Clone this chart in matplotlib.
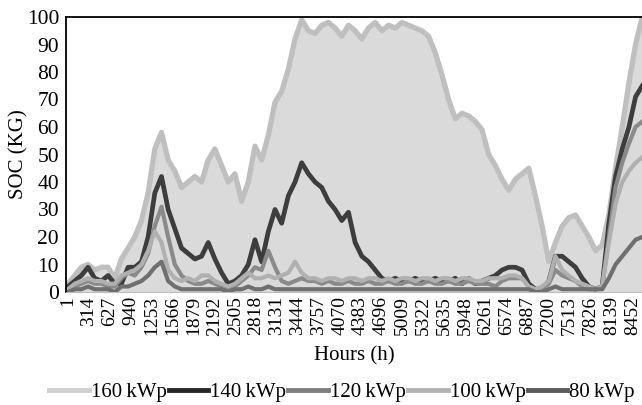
import matplotlib
matplotlib.use('Agg')
import matplotlib.pyplot as plt
from matplotlib.lines import Line2D

plt.rcParams['font.family'] = ['Liberation Serif', 'DejaVu Serif']

# hourly SOC, one sample every 100 h
hours = list(range(1, 8602, 100))

soc_160 = [3, 6, 9, 10, 8, 9, 9, 5, 12, 16,
           20, 26, 36, 52, 58, 48, 44, 38, 40, 42,
           40, 48, 52, 46, 40, 43, 33, 40, 53, 48,
           57, 69, 73, 81, 92, 99, 95, 94, 97, 98,
           96, 93, 97, 95, 92, 96, 98, 95, 97, 96,
           98, 97, 96, 95, 93, 87, 79, 70, 63, 65,
           64, 62, 59, 50, 46, 41, 37, 41, 43, 45,
           35, 24, 11, 18, 24, 27, 28, 24, 20, 15,
           17, 28, 45, 60, 76, 90, 100]
soc_140 = [2, 4, 6, 9, 5, 4, 6, 3, 3, 9,
           9, 11, 20, 36, 42, 30, 23, 16, 14, 12,
           13, 18, 12, 7, 3, 4, 6, 10, 19, 11,
           22, 30, 25, 35, 40, 47, 43, 40, 38, 33,
           30, 26, 29, 18, 13, 11, 8, 5, 4, 5,
           4, 4, 5, 4, 4, 5, 4, 4, 5, 3,
           5, 3, 4, 5, 6, 8, 9, 9, 8, 3,
           1, 1, 4, 13, 13, 11, 9, 5, 2, 1,
           2, 25, 42, 52, 60, 71, 75]
soc_120 = [1, 2, 3, 4, 3, 3, 2, 2, 5, 7,
           6, 9, 14, 24, 31, 20, 10, 6, 4, 3,
           3, 4, 3, 2, 1, 2, 4, 6, 9, 8,
           15, 9, 4, 3, 4, 5, 4, 4, 3, 4,
           3, 3, 4, 3, 3, 4, 3, 3, 4, 3,
           3, 4, 3, 3, 4, 3, 3, 4, 3, 3,
           4, 3, 3, 3, 2, 4, 5, 5, 5, 2,
           1, 1, 3, 8, 6, 5, 4, 2, 1, 1,
           2, 20, 38, 47, 54, 60, 62]
soc_100 = [1, 3, 4, 5, 4, 4, 3, 3, 6, 7,
           8, 10, 15, 22, 18, 8, 5, 4, 5, 4,
           6, 6, 4, 3, 2, 3, 5, 7, 5, 5,
           6, 5, 6, 7, 11, 7, 5, 5, 4, 5,
           5, 4, 5, 5, 4, 5, 5, 4, 5, 4,
           5, 5, 4, 5, 5, 4, 5, 5, 4, 5,
           5, 4, 4, 5, 5, 5, 6, 6, 5, 2,
           1, 2, 4, 13, 8, 6, 4, 3, 2, 1,
           2, 18, 32, 40, 44, 47, 49]
soc_80 = [0, 1, 1, 2, 1, 1, 1, 0, 2, 2,
          3, 4, 6, 9, 11, 4, 2, 1, 1, 1,
          1, 1, 1, 1, 0, 1, 1, 2, 1, 1,
          2, 1, 1, 1, 1, 1, 1, 1, 1, 1,
          1, 1, 1, 1, 1, 1, 1, 1, 1, 1,
          1, 1, 1, 1, 1, 1, 1, 1, 1, 1,
          1, 1, 1, 1, 1, 1, 1, 1, 1, 1,
          0, 0, 1, 2, 1, 1, 1, 1, 1, 1,
          1, 5, 10, 13, 16, 19, 20]

labels = ['160\u2009kWp', '140\u2009kWp', '120\u2009kWp', '100\u2009kWp', '80\u2009kWp']
legend_colors = ['#cfcfcf', '#262626', '#7f7f7f', '#b3b3b3', '#5a5a5a']
tick_hours = list(range(1, 8453, 313))

fig = plt.figure(figsize=(6.42, 4.05), dpi=100)
ax = fig.add_axes([66 / 642, 1 - 292 / 405, 1 - 66 / 642, (292 - 17) / 405])

ax.fill_between(hours, soc_160, 0, color='#dadada', lw=0)
ax.plot(hours, soc_160, color='#bfbfbf', lw=3.8)
ax.plot(hours, soc_140, color='#3d3d3d', lw=3.4)
ax.plot(hours, soc_120, color='#8a8a8a', lw=3.0)
ax.plot(hours, soc_100, color='#b0b0b0', lw=3.0)
ax.plot(hours, soc_80, color='#6f6f6f', lw=3.0)

ax.set_xlim(-29, 8597)
ax.set_ylim(0, 100)
ax.set_yticks(range(0, 101, 10))
ax.set_xticks(tick_hours)
ax.set_xticklabels([str(h) for h in tick_hours], rotation=90)
ax.tick_params(axis='both', length=0, colors='black')
ax.tick_params(axis='x', pad=3, labelsize=14)
ax.tick_params(axis='y', pad=5, labelsize=15.5)

ax.spines['right'].set_visible(False)
ax.spines['bottom'].set_color('#bdbdbd')
ax.spines['left'].set_linewidth(1.3)
ax.spines['top'].set_linewidth(1.3)

ax.set_ylabel('SOC (KG)', fontsize=15)
ax.yaxis.set_label_coords(-38 / 576, 0.5)
ax.set_xlabel('Hours (h)', fontsize=15, labelpad=8)

handles = [Line2D([0], [0], color=c, lw=3.5) for c in legend_colors]
fig.legend(handles, labels, loc='center', bbox_to_anchor=(342 / 642, 1 - 392 / 405),
           ncol=5, frameon=False, fontsize=15, handlelength=1.9,
           handletextpad=0.1, columnspacing=0.1, borderaxespad=0)

fig.savefig('out.png', dpi=100)
